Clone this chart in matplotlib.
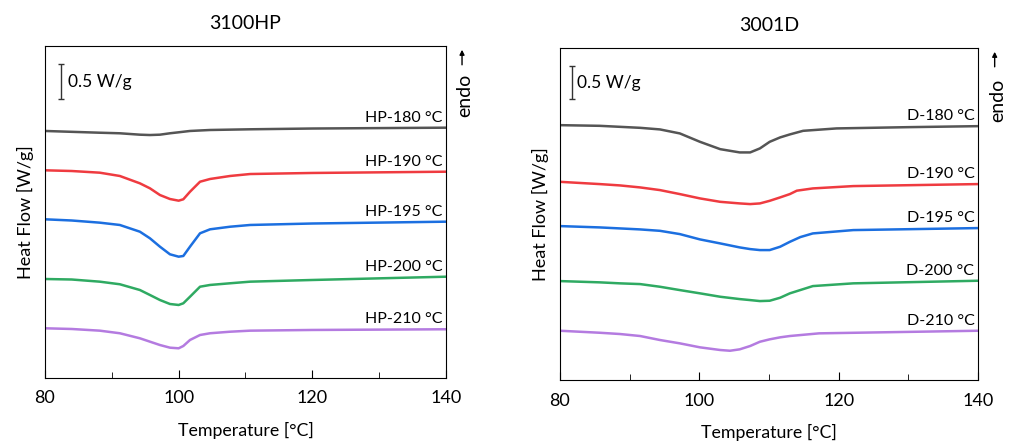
import matplotlib
matplotlib.use("Agg")
import matplotlib.pyplot as plt
from matplotlib.ticker import MultipleLocator

plt.rcParams['font.family'] = ['Lato', 'DejaVu Sans']

# --- 3100HP curves (temperature in C, heat flow in W/g, offset) ---
hp180_t = [80, 88.2, 91.2, 94.2, 95.7, 97.2, 98.7, 100, 101.7, 104.7, 110.7, 120, 140]
hp180_y = [3.529, 3.504, 3.496, 3.476, 3.471, 3.476, 3.496, 3.510, 3.529, 3.543, 3.553, 3.564, 3.576]

hp190_t = [80, 84, 88.2, 91.2, 94.2, 95.7, 97.2, 98.7, 100, 100.7, 101.7, 103.2, 104.7, 107.7, 110.7, 120, 140]
hp190_y = [2.967, 2.957, 2.933, 2.886, 2.781, 2.710, 2.614, 2.557, 2.533, 2.553, 2.661, 2.804,
           2.843, 2.886, 2.914, 2.929, 2.947]

hp195_t = [80, 84, 88.2, 91.2, 94.2, 95.7, 97.2, 98.7, 100, 100.7, 101.7, 103.2, 104.7, 107.7, 110.7, 120, 140]
hp195_y = [2.267, 2.250, 2.219, 2.186, 2.090, 1.996, 1.876, 1.767, 1.733, 1.743, 1.876, 2.067,
           2.124, 2.161, 2.186, 2.207, 2.233]

hp200_t = [80, 84, 88.2, 91.2, 94.2, 95.7, 97.2, 98.7, 100, 100.7, 101.7, 103.2, 104.7, 107.7, 110.7, 120, 140]
hp200_y = [1.414, 1.407, 1.376, 1.339, 1.257, 1.186, 1.114, 1.057, 1.043, 1.067, 1.161, 1.304,
           1.329, 1.353, 1.376, 1.400, 1.447]

hp210_t = [80, 84, 88.2, 91.2, 94.2, 95.7, 97.2, 98.7, 100, 100.7, 101.7, 103.2, 104.7, 107.7, 110.7, 120, 140]
hp210_y = [0.710, 0.700, 0.676, 0.639, 0.567, 0.519, 0.471, 0.433, 0.424, 0.457, 0.543, 0.614,
           0.639, 0.661, 0.676, 0.686, 0.696]

# --- 3001D curves ---
d180_t = [80, 85.7, 88.6, 91.5, 94.35, 97.2, 100.1, 103, 105.8, 107.3, 108.7, 110.1, 111.6, 113,
          114.9, 119.7, 130, 140]
d180_y = [3.823, 3.813, 3.798, 3.783, 3.759, 3.699, 3.573, 3.463, 3.414, 3.414, 3.474, 3.573,
          3.639, 3.684, 3.738, 3.774, 3.793, 3.808]

d190_t = [80, 85.7, 88.6, 91.5, 94.35, 97.2, 100.1, 103, 105.8, 107.3, 108.7, 110.1, 111.6, 113,
          114, 116.3, 122.1, 140]
d190_y = [2.973, 2.939, 2.919, 2.889, 2.849, 2.789, 2.724, 2.673, 2.649, 2.639, 2.649, 2.688,
          2.739, 2.789, 2.840, 2.874, 2.909, 2.939]

d195_t = [80, 85.7, 88.6, 91.5, 94.35, 97.2, 100.1, 103, 105.8, 107.3, 108.7, 110.1, 111.6, 113,
          114.5, 116.3, 122.1, 140]
d195_y = [2.309, 2.289, 2.274, 2.259, 2.238, 2.189, 2.109, 2.049, 1.989, 1.964, 1.949, 1.949,
          1.999, 2.073, 2.144, 2.199, 2.249, 2.279]

d200_t = [80, 85.7, 88.6, 91.5, 94.35, 97.2, 100.1, 103, 105.8, 107.3, 108.7, 110.1, 111.6, 113,
          116.3, 122.1, 140]
d200_y = [1.484, 1.465, 1.450, 1.439, 1.399, 1.349, 1.300, 1.249, 1.214, 1.199, 1.184, 1.189,
          1.234, 1.300, 1.409, 1.450, 1.489]

d210_t = [80, 85.7, 88.6, 91.5, 94.35, 97.2, 100.1, 103, 104.4, 105.8, 107.3, 108.7, 110.1, 111.6,
          113, 117.2, 140]
d210_y = [0.739, 0.709, 0.690, 0.660, 0.600, 0.550, 0.490, 0.450, 0.439, 0.460, 0.510, 0.574,
          0.610, 0.640, 0.660, 0.700, 0.739]

hp_labels = ['HP-180 °C', 'HP-190 °C', 'HP-195 °C', 'HP-200 °C', 'HP-210 °C']
d_labels = ['D-180 °C', 'D-190 °C', 'D-195 °C', 'D-200 °C', 'D-210 °C']
colors = ['#555555', '#ef3b40', '#1c6fe0', '#2faa62', '#b47be0']

panels = [
    dict(title='3100HP', labels=hp_labels,
         curves=[(hp180_t, hp180_y), (hp190_t, hp190_y), (hp195_t, hp195_y),
                 (hp200_t, hp200_y), (hp210_t, hp210_y)],
         rect=[0.0443, 0.1429, 0.3951, 0.7528], ytop=4.743,
         bar_x=82.35, bar_y=4.23, txt_x=83.4, endo_y=0.85),
    dict(title='3001D', labels=d_labels,
         curves=[(d180_t, d180_y), (d190_t, d190_y), (d195_t, d195_y),
                 (d200_t, d200_y), (d210_t, d210_y)],
         rect=[0.5517, 0.1383, 0.4118, 0.7528], ytop=4.98,
         bar_x=81.7, bar_y=4.46, txt_x=82.5, endo_y=0.843),
]

fig = plt.figure(figsize=(10.15, 4.41), dpi=100)

for p in panels:
    ax = fig.add_axes(p['rect'])
    for (t, y), lab, c in zip(p['curves'], p['labels'], colors):
        ax.plot(t, y, color=c, lw=1.8, solid_joinstyle='round', solid_capstyle='butt')
        ax.annotate(lab, xy=(139.5, y[-1]), xytext=(0, 2), textcoords='offset points',
                    ha='right', va='bottom', fontsize=11.5)
    ax.set_xlim(80, 140)
    ax.set_ylim(0, p['ytop'])
    ax.xaxis.set_major_locator(MultipleLocator(20))
    ax.xaxis.set_minor_locator(MultipleLocator(10))
    ax.tick_params(axis='x', which='major', direction='in', length=6, labelsize=13, pad=9)
    ax.tick_params(axis='x', which='minor', direction='in', length=4)
    ax.set_yticks([])
    ax.set_xlabel('Temperature [°C]', fontsize=12.8, labelpad=11)
    ax.set_ylabel('Heat Flow [W/g]', fontsize=13, labelpad=8)
    ax.set_title(p['title'], fontsize=14, pad=12)

    # 0.5 W/g scale bar
    ax.errorbar([p['bar_x']], [p['bar_y']], yerr=0.25, color='#333333', lw=1,
                capsize=2.5, capthick=1)
    ax.text(p['txt_x'], p['bar_y'], '0.5 W/g', fontsize=12.5, va='center', ha='left')

    # endo arrow
    ax.text(1.047, p['endo_y'], 'endo', transform=ax.transAxes, rotation=90,
            fontsize=14, ha='center', va='center')
    ax.annotate('', xy=(1.04, 0.997), xytext=(1.04, 0.935), xycoords='axes fraction',
                arrowprops=dict(arrowstyle='-|>', color='black', lw=1, mutation_scale=7),
                annotation_clip=False)

fig.savefig('out.png', dpi=100)
